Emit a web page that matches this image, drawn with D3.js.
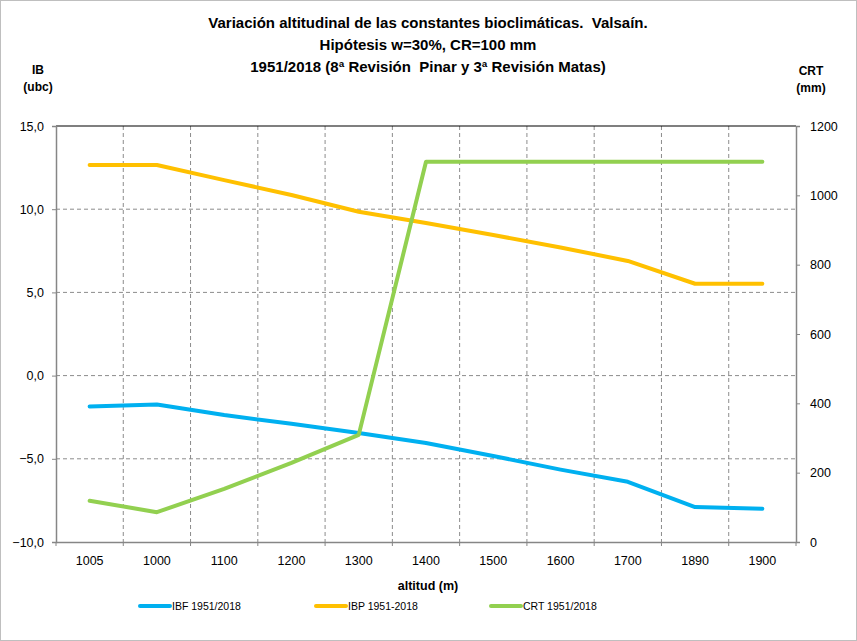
<!DOCTYPE html>
<html>
<head>
<meta charset="utf-8">
<script src="https://cdn.jsdelivr.net/npm/d3@7"></script>
<style>
  body { margin: 0; background: #fff; }
  svg { font-family: "Liberation Sans", Arial, sans-serif; }
</style>
</head>
<body>
<div id="chart-container"></div>
<script>
// data
const altitudes = ['1005', '1000', '1100', '1200', '1300', '1400', '1500', '1600', '1700', '1890', '1900']
const ibf = [-1.85, -1.74, -2.37, -2.9, -3.45, -4.05, -4.83, -5.65, -6.38, -7.9, -8.0]
const ibp = [12.66, 12.66, 11.75, 10.85, 9.85, 9.17, 8.45, 7.7, 6.89, 5.52, 5.52]
const crt = [119, 86, 153, 228, 309, 1097, 1097, 1097, 1097, 1097, 1097]
const leftTicks = [-10, -5, 0, 5, 10, 15]
const rightTicks = [0, 200, 400, 600, 800, 1000, 1200]
const seriesNames = ['IBF 1951/2018', 'IBP 1951-2018', 'CRT 1951/2018']

const width = 857
const height = 641
const margin = {left: 56, top: 126, right: 61, bottom: 99}
const colors = ['#00B0F0', '#FFC000', '#92D050']

const svg = d3.select('#chart-container')
  .append('svg')
  .attr('width', width)
  .attr('height', height)

svg.append('rect')
  .attr('x', 0.5).attr('y', 0.5)
  .attr('width', width - 1).attr('height', height - 1)
  .attr('fill', '#fff')
  .attr('stroke', '#bfbfbf')

const x = d3.scaleBand()
  .domain(altitudes)
  .range([margin.left, width - margin.right])
const yL = d3.scaleLinear().domain([-10, 15]).range([height - margin.bottom, margin.top])
const yR = d3.scaleLinear().domain([0, 1200]).range([height - margin.bottom, margin.top])

const x0 = margin.left
const x1 = width - margin.right
const yTop = margin.top
const yBot = height - margin.bottom

// gridlines
const boundaries = altitudes.slice(1).map(a => x(a))
svg.selectAll('.vgrid')
  .data(boundaries)
  .enter()
  .append('line')
  .attr('x1', d => d).attr('x2', d => d)
  .attr('y1', yTop).attr('y2', yBot)
  .attr('stroke', '#8c8c8c')
  .attr('stroke-dasharray', '4,3')

svg.selectAll('.hgrid')
  .data(leftTicks.slice(1, -1))
  .enter()
  .append('line')
  .attr('x1', x0).attr('x2', x1)
  .attr('y1', d => yL(d)).attr('y2', d => yL(d))
  .attr('stroke', '#8c8c8c')
  .attr('stroke-dasharray', '4,3')

// top border
svg.append('line')
  .attr('x1', x0).attr('x2', x1)
  .attr('y1', yTop).attr('y2', yTop)
  .attr('stroke', '#000')
  .attr('stroke-width', 1.2)

// left axis
const leftAxis = svg.append('g')
  .attr('transform', `translate(${x0},0)`)
  .call(d3.axisLeft(yL).tickValues(leftTicks).tickSize(4).tickPadding(8)
    .tickFormat(d => d3.format('.1f')(d).replace('.', ',')))
// bottom axis
const bottomAxis = svg.append('g')
  .attr('transform', `translate(0,${yBot})`)
  .call(d3.axisBottom(x).tickSize(0).tickPadding(14))
svg.selectAll('.btick')
  .data([x0].concat(boundaries).concat([x1]))
  .enter()
  .append('line')
  .attr('x1', d => d).attr('x2', d => d)
  .attr('y1', yBot).attr('y2', yBot + 4)
  .attr('stroke', '#868686')
// right axis
const rightAxis = svg.append('g')
  .attr('transform', `translate(${x1},0)`)
  .call(d3.axisRight(yR).tickValues(rightTicks).tickSize(4).tickPadding(10)
    .tickFormat(d3.format('d')))

;[leftAxis, bottomAxis, rightAxis].forEach(g => {
  g.select('.domain').attr('stroke', '#868686').attr('stroke-width', 1.5)
  g.selectAll('.tick line').attr('stroke', '#868686')
  g.selectAll('.tick text').attr('fill', '#000').style('font-size', '12.5px')
})

// lines
const lineL = d3.line()
  .x((d, i) => x(altitudes[i]) + x.bandwidth() / 2)
  .y(d => yL(d))
const lineR = d3.line()
  .x((d, i) => x(altitudes[i]) + x.bandwidth() / 2)
  .y(d => yR(d))

const paths = [lineL(ibf), lineL(ibp), lineR(crt)]
svg.selectAll('.series')
  .data(paths)
  .enter()
  .append('path')
  .attr('d', d => d)
  .attr('fill', 'none')
  .attr('stroke', (d, i) => colors[i])
  .attr('stroke-width', 4)
  .attr('stroke-linecap', 'round')
  .attr('stroke-linejoin', 'round')

// titles
const titles = [
  'Variación altitudinal de las constantes bioclimáticas.  Valsaín.',
  'Hipótesis w=30%, CR=100 mm',
  '1951/2018 (8ª Revisión  Pinar y 3ª Revisión Matas)'
]
svg.selectAll('.title')
  .data(titles)
  .enter()
  .append('text')
  .attr('x', 428)
  .attr('y', (d, i) => 28 + i * 22)
  .attr('text-anchor', 'middle')
  .style('font-weight', 'bold')
  .style('font-size', '15px')
  .style('white-space', 'pre')
  .text(d => d)

svg.selectAll('.ltitle')
  .data(['IB', '(ubc)'])
  .enter()
  .append('text')
  .attr('x', 38)
  .attr('y', (d, i) => 74 + i * 17)
  .attr('text-anchor', 'middle')
  .style('font-weight', 'bold')
  .style('font-size', '12px')
  .text(d => d)

svg.selectAll('.rtitle')
  .data(['CRT', '(mm)'])
  .enter()
  .append('text')
  .attr('x', 811)
  .attr('y', (d, i) => 75 + i * 17)
  .attr('text-anchor', 'middle')
  .style('font-weight', 'bold')
  .style('font-size', '12px')
  .text(d => d)

svg.append('text')
  .attr('x', 428)
  .attr('y', 590)
  .attr('text-anchor', 'middle')
  .style('font-weight', 'bold')
  .style('font-size', '12.5px')
  .text('altitud (m)')

// legend
const legendX = [140, 316, 491]
const legend = svg.selectAll('.legend')
  .data(seriesNames)
  .enter()
  .append('g')
  .attr('transform', (d, i) => `translate(${legendX[i]},606)`)
legend.append('line')
  .attr('x1', 0).attr('x2', 30)
  .attr('stroke', (d, i) => colors[i])
  .attr('stroke-width', 4)
  .attr('stroke-linecap', 'round')
legend.append('text')
  .attr('x', 32)
  .attr('y', 4)
  .style('font-size', '10.5px')
  .text(d => d)
</script>
</body>
</html>
